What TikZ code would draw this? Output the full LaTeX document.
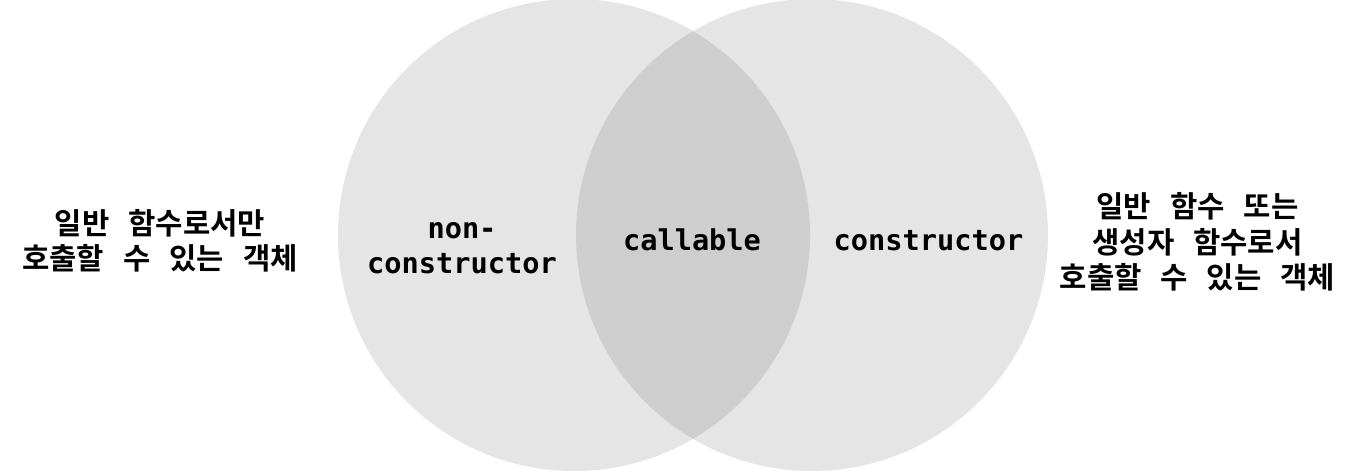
\documentclass[tikz,border=0pt]{standalone}
\usepackage{fontspec}
\setmonofont{DejaVu Sans Mono}
\newfontfamily\krfont{Noto Sans CJK KR}[BoldFont={* Bold}]
\usetikzlibrary{positioning}

\newcommand{\wgap}{\hspace{0.38cm}}
\tikzset{
    venn/.style={fill=black, fill opacity=0.1},
    codelabel/.style={font=\fontsize{16.3}{20}\selectfont\ttfamily\bfseries, align=center, inner sep=0pt},
    krlabel/.style={font=\fontsize{16.9}{20.2}\selectfont\krfont\bfseries, align=center, inner sep=0pt}
}

\begin{document}
\begin{tikzpicture}
        \useasboundingbox (0,0) rectangle (27.16,9.4);
        % Draw the two overlapping sets
        \foreach \cx in {11.48,16.24} {
            \fill[venn] (\cx,4.7) circle (4.72);
        }

        % Labels inside the sets
        \node[codelabel] (noncons) at (9.24,4.43) {non-\\constructor};
        \node[codelabel, anchor=base] (callable) at (13.84,4.40) {callable};
        \node[codelabel, anchor=base] (cons) at (18.57,4.40) {constructor};

        % Descriptions on both sides
        \node[krlabel] (normal) at (3.2,4.58) {일반\wgap 함수로서만\\호출할\wgap 수\wgap 있는\wgap 객체};
        \node[krlabel] (both) at (23.95,4.56) {일반\wgap 함수\wgap 또는\\생성자\wgap 함수로서\\호출할\wgap 수\wgap 있는\wgap 객체};
    \end{tikzpicture}
\end{document}
